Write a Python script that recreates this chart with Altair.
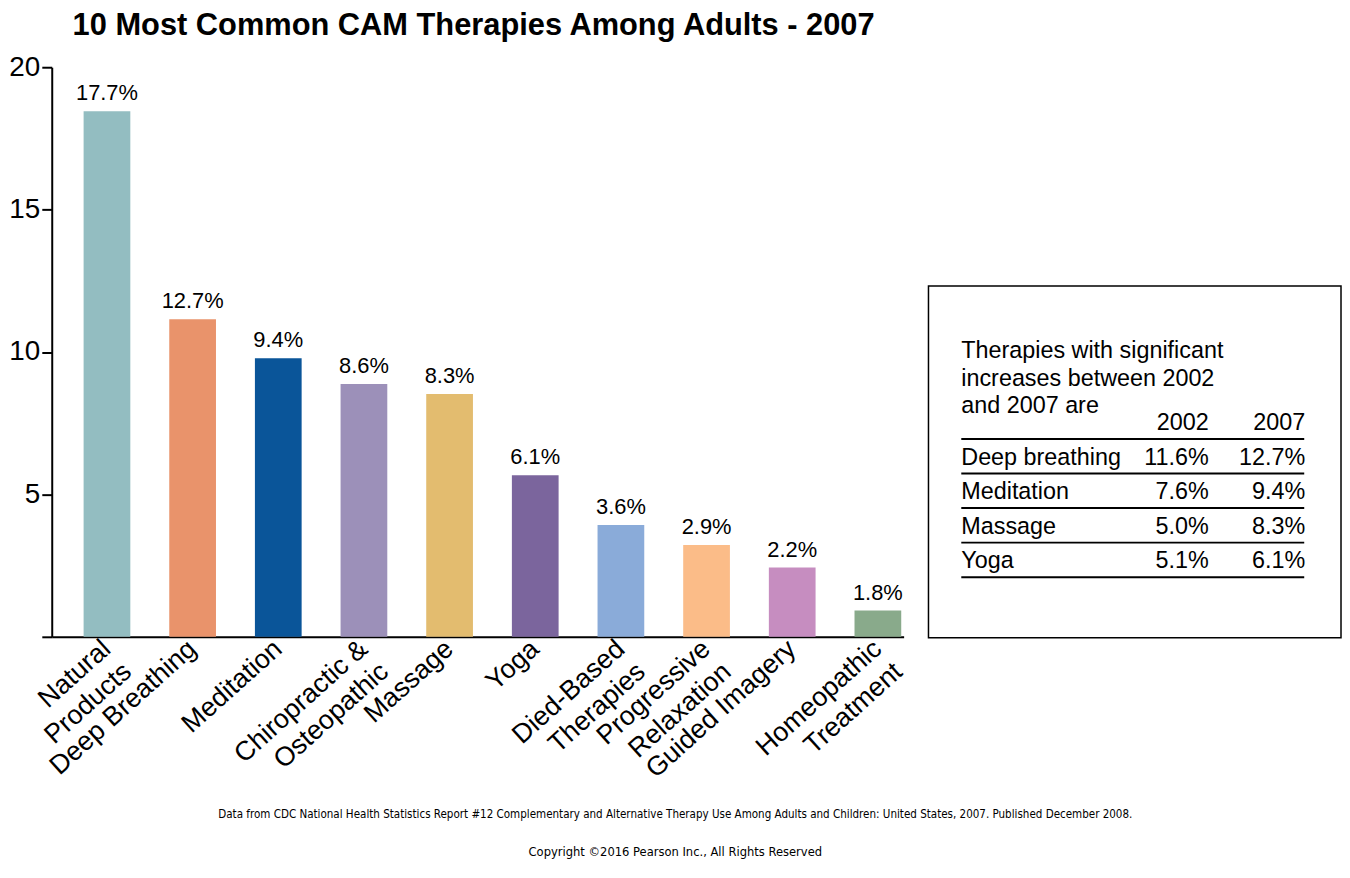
import altair as alt
import pandas as pd

FONT = "Liberation Sans, Arial, Helvetica, sans-serif"
NARROW = "Liberation Sans Narrow, DejaVu Sans Condensed, Arial Narrow, sans-serif"

# ---- bar chart data ----
categories = ["Natural|Products", "Deep Breathing", "Meditation", "Chiropractic &|Osteopathic",
              "Massage", "Yoga", "Died-Based|Therapies", "Progressive|Relaxation",
              "Guided Imagery", "Homeopathic|Treatment"]
bar_heights = [18.45, 11.15, 9.78, 8.88, 8.53, 5.67, 3.93, 3.22, 2.43, 0.92]
value_labels = ["17.7%", "12.7%", "9.4%", "8.6%", "8.3%", "6.1%", "3.6%", "2.9%", "2.2%", "1.8%"]
bar_colors = ["#93BDC1", "#E9936B", "#0A5599", "#9C90B9", "#E3BC6F",
              "#7B659D", "#8AABD9", "#FBBC88", "#C68DC0", "#89AA8B"]
y_ticks = [0, 5, 10, 15, 20]

# ---- inset table data ----
table_rows = ["header", "Deep breathing", "Meditation", "Massage", "Yoga"]
table_names = ["", "Deep breathing", "Meditation", "Massage", "Yoga"]
table_2002 = ["2002", "11.6%", "7.6%", "5.0%", "5.1%"]
table_2007 = ["2007", "12.7%", "9.4%", "8.3%", "6.1%"]
heading = "Therapies with significant\nincreases between 2002\nand 2007 are"

title_text = "10 Most Common CAM Therapies Among Adults - 2007"
source_text = ("Data from CDC National Health Statistics Report #12 Complementary and Alternative "
               "Therapy Use Among Adults and Children: United States, 2007. Published December 2008.")
copyright_text = "Copyright \u00a92016 Pearson Inc., All Rights Reserved"

bars_df = pd.DataFrame({"cat": categories, "h": bar_heights, "lab": value_labels})

xenc = alt.X(
    "cat:N", sort=categories,
    scale=alt.Scale(paddingInner=0.4546, paddingOuter=0.2, align=0.93),
    axis=alt.Axis(title=None, labelExpr="split(datum.label, '|')", labelAngle=-42,
                  labelAlign="right", labelBaseline="middle", labelFontSize=27,
                  labelFont=FONT, labelColor="black", ticks=False, labelPadding=8,
                  domainColor="black", domainWidth=2, labelLineHeight=31,
                  labelLimit=400, labelOverlap=False),
)
yenc = alt.Y(
    "h:Q", scale=alt.Scale(domain=[0, 20], nice=False, zero=True),
    axis=alt.Axis(values=y_ticks, labelExpr="datum.value == 0 ? '' : datum.label",
                  title=None, grid=False, tickSize=10, tickWidth=2, tickColor="black",
                  domainWidth=2, domainColor="black", labelFontSize=28, labelPadding=2,
                  labelColor="black", labelFont=FONT),
)

bars = alt.Chart(bars_df).mark_bar().encode(
    x=xenc, y=yenc,
    color=alt.Color("cat:N", scale=alt.Scale(domain=categories, range=bar_colors), legend=None),
)
texts = alt.Chart(bars_df).mark_text(dy=-11, baseline="alphabetic", fontSize=22,
                                     font=FONT, color="black").encode(
    x=alt.X("cat:N", sort=categories), y=alt.Y("h:Q"), text="lab:N")

bar_chart = alt.layer(bars, texts).properties(
    width=857, height=573,
    title=alt.Title(text=title_text, anchor="start", frame="group", fontSize=31,
                    fontWeight="bold", font=FONT, dx=21, offset=11, color="black"),
)

# ---- table ----
table_df = pd.DataFrame({"row": table_rows, "name": table_names,
                         "c2002": table_2002, "c2007": table_2007})
tscale = alt.Scale(type="point", range=[138, 277], padding=0)
ty = alt.Y("row:N", sort=table_rows, scale=tscale, axis=None)
base = alt.Chart(table_df).encode(y=ty)
names = base.mark_text(align="left", baseline="middle", fontSize=23.5, font=FONT,
                       color="black").encode(x=alt.value(33), text="name:N")
col1 = base.mark_text(align="right", baseline="middle", fontSize=23.5, font=FONT,
                      color="black").encode(x=alt.value(282), text="c2002:N")
col2 = base.mark_text(align="right", baseline="middle", fontSize=23.5, font=FONT,
                      color="black").encode(x=alt.value(379), text="c2007:N")
rules = base.mark_rule(color="black", strokeWidth=2, yOffset=16).encode(
    x=alt.value(33), x2=alt.value(378))
head_df = pd.DataFrame({"row": ["header"], "t": [heading]})
head = alt.Chart(head_df).mark_text(align="left", baseline="middle", lineBreak="\n",
                                    lineHeight=27.5, fontSize=23.5, font=FONT, dy=-72,
                                    color="black").encode(
    x=alt.value(33), y=ty, text="t:N")

table = alt.layer(rules, names, col1, col2, head).properties(
    width=415, height=354,
    view=alt.ViewBackground(stroke="black", strokeWidth=1.5),
)

spacer = alt.Chart(pd.DataFrame({"v": [0]})).mark_point(opacity=0).encode(
    x=alt.value(0), y=alt.value(0)).properties(width=415, height=219)

right_col = alt.vconcat(spacer, table, spacing=0)

chart = alt.hconcat(bar_chart, right_col, spacing=18).properties(
    padding={"left": 0, "top": 0, "right": 0, "bottom": 5},
    title=alt.Title(text=source_text, subtitle=copyright_text, orient="bottom",
                    anchor="middle", fontSize=11.6, font=NARROW, fontWeight="normal",
                    color="black", subtitleFontSize=12.9, subtitleFont=NARROW,
                    subtitleColor="black", subtitlePadding=26, offset=19),
).configure_view(strokeWidth=0)

chart.save("out.html", embed_options={"renderer": "svg", "actions": False})
